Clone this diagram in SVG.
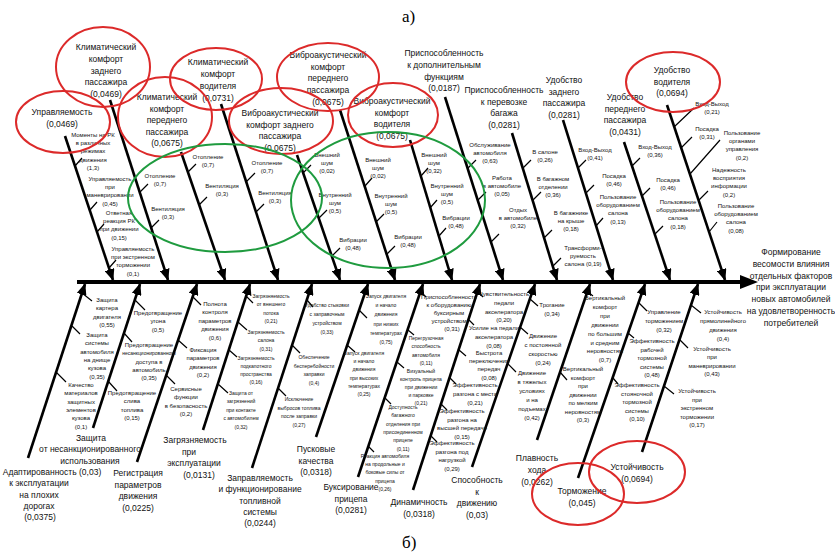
<svg xmlns="http://www.w3.org/2000/svg" width="835" height="552" viewBox="0 0 835 552">
<style>
.m{font-family:"Liberation Sans",Arial,sans-serif;font-size:8.5px;text-anchor:middle;fill:#111}
.s{font-family:"Liberation Sans",Arial,sans-serif;font-size:6px;text-anchor:middle;fill:#111}
.x{font-size:5px}
.lab{font-family:"Liberation Serif","Times New Roman",serif;font-size:17px;fill:#000}
.b{stroke:#000;stroke-width:2.6;fill:none;marker-end:url(#a)}
.t{stroke:#000;stroke-width:1.2;fill:none}
.r{fill:none;stroke:#dc2a2a;stroke-width:2}
.g{fill:none;stroke:#1f9b3f;stroke-width:2}
</style>
<defs>
<marker id="a" viewBox="0 0 12 10" refX="11" refY="5" markerWidth="12" markerHeight="10" markerUnits="userSpaceOnUse" orient="auto"><path d="M0,0L12,5L0,10z" fill="#000"/></marker>
</defs>
<rect width="835" height="552" fill="#fff"/>
<text class="lab" x="402" y="22">а)</text>
<text class="lab" x="402" y="548">б)</text>

<g id="connectors">
<line x1="77" y1="282" x2="744" y2="282" stroke="#000" stroke-width="4"/>
<polygon points="740,275 758,282 740,289" fill="#000"/>
<line class="b" x1="65" y1="136" x2="113" y2="280"/>
<line class="b" x1="110" y1="100" x2="168" y2="280"/>
<line class="b" x1="181" y1="152" x2="225" y2="280"/>
<line class="b" x1="221" y1="104" x2="278" y2="280"/>
<line class="b" x1="297" y1="155" x2="340" y2="280"/>
<line class="b" x1="340" y1="110" x2="395" y2="280"/>
<line class="b" x1="410" y1="140" x2="452" y2="280"/>
<line class="b" x1="445" y1="97" x2="503" y2="280"/>
<line class="b" x1="512" y1="133" x2="557" y2="280"/>
<line class="b" x1="563" y1="120" x2="613" y2="280"/>
<line class="b" x1="624" y1="142" x2="670" y2="280"/>
<line class="b" x1="667" y1="105" x2="725" y2="280"/>
<line class="b" x1="28" y1="458" x2="85" y2="284"/>
<line class="b" x1="93" y1="428" x2="140" y2="284"/>
<line class="b" x1="137" y1="462" x2="197" y2="284"/>
<line class="b" x1="203" y1="430" x2="250" y2="284"/>
<line class="b" x1="252" y1="468" x2="312" y2="284"/>
<line class="b" x1="316" y1="437" x2="368" y2="284"/>
<line class="b" x1="358" y1="477" x2="423" y2="284"/>
<line class="b" x1="413" y1="490" x2="480" y2="284"/>
<line class="b" x1="472" y1="467" x2="535" y2="284"/>
<line class="b" x1="537" y1="440" x2="590" y2="284"/>
<line class="b" x1="578" y1="478" x2="645" y2="284"/>
<line class="b" x1="642" y1="452" x2="698" y2="284"/>
<g class="t">
<path d="M75,166l7,-8M90,210l7,-8M97,232l7,-8M109,268l7,-8"/>
<path d="M140,192l8,-8M151,228l8,-8"/>
<path d="M188,172l8,-8M199,205l8,-8"/>
<path d="M246,182l9,-9M256,212l8,-8"/>
<path d="M303,173l8,-8M319,218l8,-8M332,256l8,-8"/>
<path d="M365,186l7,-8M376,222l8,-8M387,254l8,-8"/>
<path d="M421,176l7,-8M430,208l7,-8M439,236l7,-8"/>
<path d="M468,168l8,-8M478,200l8,-8M491,242l8,-8"/>
<path d="M523,168l8,-8M533,200l8,-8M544,238l8,-8M553,266l8,-8"/>
<path d="M578,168l8,-8M586,193l8,-8M596,226l7,-8"/>
<path d="M632,166l8,-8M642,196l8,-8M655,234l8,-8"/>
<path d="M674,127l20,-19M681,148l11,-11M690,174l30,-34M699,200l9,-9M709,232l8,-10"/>
<path d="M82,293l10,8M72,326l8,8M56,372l10,10"/>
<path d="M135,300l10,10M124,333l8,9M108,381l9,10"/>
<path d="M193,297l8,8M178,340l9,8M166,375l9,9"/>
<path d="M246,296l7,7M238,322l9,8M229,350l8,7M218,384l10,9"/>
<path d="M307,300l6,7M292,345l8,8M278,388l8,8"/>
<path d="M359,310l8,8M347,345l8,7"/>
<path d="M421,292l5,5M408,330l6,5M397,362l7,6M385,398l6,6M368,446l6,6"/>
<path d="M478,292l5,5M469,320l5,5M459,350l7,6M450,378l6,6M441,404l6,6M431,436l6,6"/>
<path d="M530,299l8,7M520,327l8,7M508,364l8,8"/>
<path d="M588,292l5,4M560,372l7,8"/>
<path d="M639,303l8,8M628,333l6,5M613,378l5,6"/>
<path d="M691,305l10,8M680,340l8,8M664,386l10,8"/>
</g>
</g>

<g id="upravlyaemost">
<text class="m" x="62" y="115">Управляемость<tspan x="62" dy="11.7">(0,0469)</tspan></text>
<text class="s" x="93" y="137">Моменты на РК<tspan x="93" dy="8.2">в различных</tspan><tspan x="93" dy="8.2">режимах</tspan><tspan x="93" dy="8.2">движения</tspan><tspan x="93" dy="8.2">(1,3)</tspan></text>
<text class="s" x="110" y="181">Управляемость<tspan x="110" dy="8.2">при</tspan><tspan x="110" dy="8.2">маневрировании</tspan><tspan x="110" dy="8.2">(0,45)</tspan></text>
<text class="s" x="119" y="215">Ответная<tspan x="119" dy="8.2">реакция РК</tspan><tspan x="119" dy="8.2">при движении</tspan><tspan x="119" dy="8.2">(0,15)</tspan></text>
<text class="s" x="133" y="251">Управляемость<tspan x="133" dy="8.2">при экстренном</tspan><tspan x="133" dy="8.2">торможении</tspan><tspan x="133" dy="8.2">(0,1)</tspan></text>
</g>
<g id="klimat-zadn">
<text class="m" x="106" y="50">Климатический<tspan x="106" dy="11.8">комфорт</tspan><tspan x="106" dy="11.8">заднего</tspan><tspan x="106" dy="11.8">пассажира</tspan><tspan x="106" dy="11.8">(0,0469)</tspan></text>
<text class="s" x="160" y="178">Отопление<tspan x="160" dy="8.2">(0,7)</tspan></text>
<text class="s" x="168" y="211">Вентиляция<tspan x="168" dy="8.2">(0,3)</tspan></text>
</g>
<g id="klimat-pered">
<text class="m" x="167" y="100">Климатический<tspan x="167" dy="11.6">комфорт</tspan><tspan x="167" dy="11.6">переднего</tspan><tspan x="167" dy="11.6">пассажира</tspan><tspan x="167" dy="11.6">(0,0675)</tspan></text>
<text class="s" x="208" y="159">Отопление<tspan x="208" dy="8.2">(0,7)</tspan></text>
<text class="s" x="222" y="188">Вентиляция<tspan x="222" dy="8.2">(0,3)</tspan></text>
</g>
<g id="klimat-vod">
<text class="m" x="218" y="65">Климатический<tspan x="218" dy="12">комфорт</tspan><tspan x="218" dy="12">водителя</tspan><tspan x="218" dy="12">(0,0731)</tspan></text>
<text class="s" x="267" y="165">Отопление<tspan x="267" dy="8.2">(0,7)</tspan></text>
<text class="s" x="275" y="195">Вентиляция<tspan x="275" dy="8.2">(0,3)</tspan></text>
</g>
<g id="vibro-zadn">
<text class="m" x="280" y="116">Виброакустический<tspan x="280" dy="11.7">комфорт заднего</tspan><tspan x="280" dy="11.7">пассажира</tspan><tspan x="280" dy="11.7">(0,0675)</tspan></text>
<text class="s" x="327" y="157">Внешний<tspan x="327" dy="8.2">шум</tspan><tspan x="327" dy="8.2">(0,02)</tspan></text>
<text class="s" x="335" y="197">Внутренний<tspan x="335" dy="8.2">шум</tspan><tspan x="335" dy="8.2">(0,5)</tspan></text>
<text class="s" x="353" y="242">Вибрации<tspan x="353" dy="8.2">(0,48)</tspan></text>
</g>
<g id="vibro-pered">
<text class="m" x="328" y="58">Виброакустический<tspan x="328" dy="11.7">комфорт</tspan><tspan x="328" dy="11.7">переднего</tspan><tspan x="328" dy="11.7">пассажира</tspan><tspan x="328" dy="11.7">(0,0675)</tspan></text>
<text class="s" x="378" y="162">Внешний<tspan x="378" dy="8.2">шум</tspan><tspan x="378" dy="8.2">(0,02)</tspan></text>
<text class="s" x="391" y="198">Внутренний<tspan x="391" dy="8.2">шум</tspan><tspan x="391" dy="8.2">(0,5)</tspan></text>
<text class="s" x="408" y="239">Вибрации<tspan x="408" dy="8.2">(0,48)</tspan></text>
</g>
<g id="vibro-vod">
<text class="m" x="392" y="104">Виброакустический<tspan x="392" dy="11.7">комфорт</tspan><tspan x="392" dy="11.7">водителя</tspan><tspan x="392" dy="11.7">(0,0675)</tspan></text>
<text class="s" x="434" y="157">Внешний<tspan x="434" dy="8.2">шум</tspan><tspan x="434" dy="8.2">(0,32)</tspan></text>
<text class="s" x="447" y="188">Внутренний<tspan x="447" dy="8.2">шум</tspan><tspan x="447" dy="8.2">(0,5)</tspan></text>
<text class="s" x="456" y="220">Вибрации<tspan x="456" dy="8.2">(0,48)</tspan></text>
</g>
<g id="dop-funkcii">
<text class="m" x="444" y="56">Приспособленность<tspan x="444" dy="11.8">к дополнительным</tspan><tspan x="444" dy="11.8">функциям</tspan><tspan x="444" dy="11.8">(0,0187)</tspan></text>
<text class="s" x="490" y="147">Обслуживание<tspan x="490" dy="8.2">автомобиля</tspan><tspan x="490" dy="8.2">(0,63)</tspan></text>
<text class="s" x="502" y="180">Работа<tspan x="502" dy="8.2">в автомобиле</tspan><tspan x="502" dy="8.2">(0,05)</tspan></text>
<text class="s" x="518" y="212">Отдых<tspan x="518" dy="8.2">в автомобиле</tspan><tspan x="518" dy="8.2">(0,32)</tspan></text>
</g>
<g id="bagazh">
<text class="m" x="504" y="93">Приспособленность<tspan x="504" dy="11.6">к перевозке</tspan><tspan x="504" dy="11.6">багажа</tspan><tspan x="504" dy="11.6">(0,0281)</tspan></text>
<text class="s" x="545" y="154">В салоне<tspan x="545" dy="8.2">(0,26)</tspan></text>
<text class="s" x="553" y="181">В багажном<tspan x="553" dy="8.2">отделении</tspan><tspan x="553" dy="8.2">(0,36)</tspan></text>
<text class="s" x="571" y="215">В багажнике<tspan x="571" dy="8.2">на крыше</tspan><tspan x="571" dy="8.2">(0,18)</tspan></text>
<text class="s" x="583" y="250">Трансформи-<tspan x="583" dy="8.2">руемость</tspan><tspan x="583" dy="8.2">салона (0,19)</tspan></text>
</g>
<g id="udobstvo-zadn">
<text class="m" x="564" y="83">Удобство<tspan x="564" dy="11.5">заднего</tspan><tspan x="564" dy="11.5">пассажира</tspan><tspan x="564" dy="11.5">(0,0281)</tspan></text>
<text class="s" x="595" y="152">Вход-Выход<tspan x="595" dy="8.2">(0,41)</tspan></text>
<text class="s" x="614" y="178">Посадка<tspan x="614" dy="8.2">(0,46)</tspan></text>
<text class="s" x="618" y="199">Пользование<tspan x="618" dy="8.2">оборудованием</tspan><tspan x="618" dy="8.2">салона</tspan><tspan x="618" dy="8.2">(0,13)</tspan></text>
</g>
<g id="udobstvo-pered">
<text class="m" x="625" y="100">Удобство<tspan x="625" dy="11.5">переднего</tspan><tspan x="625" dy="11.5">пассажира</tspan><tspan x="625" dy="11.5">(0,0431)</tspan></text>
<text class="s" x="655" y="149">Вход-Выход<tspan x="655" dy="8.2">(0,36)</tspan></text>
<text class="s" x="668" y="182">Посадка<tspan x="668" dy="8.2">(0,46)</tspan></text>
<text class="s" x="678" y="204">Пользование<tspan x="678" dy="8.2">оборудованием</tspan><tspan x="678" dy="8.2">салона</tspan><tspan x="678" dy="8.2">(0,18)</tspan></text>
</g>
<g id="udobstvo-vod">
<text class="m" x="672" y="73">Удобство<tspan x="672" dy="11.6">водителя</tspan><tspan x="672" dy="11.6">(0,0694)</tspan></text>
<text class="s" x="712" y="106">Вход-Выход<tspan x="712" dy="8.2">(0,21)</tspan></text>
<text class="s" x="707" y="131">Посадка<tspan x="707" dy="8.2">(0,31)</tspan></text>
<text class="s" x="742" y="135">Пользование<tspan x="742" dy="8.2">органами</tspan><tspan x="742" dy="8.2">управления</tspan><tspan x="742" dy="8.2">(0,2)</tspan></text>
<text class="s" x="729" y="172">Надежность<tspan x="729" dy="8.2">восприятия</tspan><tspan x="729" dy="8.2">информации</tspan><tspan x="729" dy="8.2">(0,2)</tspan></text>
<text class="s" x="736" y="208">Пользование<tspan x="736" dy="8.2">оборудованием</tspan><tspan x="736" dy="8.2">салона</tspan><tspan x="736" dy="8.2">(0,08)</tspan></text>
</g>

<g id="result">
<text class="m" x="791" y="255">Формирование<tspan x="791" dy="11.8">весомости влияния</tspan><tspan x="791" dy="11.8">отдельных факторов</tspan><tspan x="791" dy="11.8">при эксплуатации</tspan><tspan x="791" dy="11.8">новых автомобилей</tspan><tspan x="791" dy="11.8">на удовлетворенность</tspan><tspan x="791" dy="11.8">потребителей</tspan></text>
</g>

<g id="adaptirovannost">
<text class="m" x="52" y="475">Адаптированность (0,03)<tspan x="39" dy="11.3">к эксплуатации</tspan><tspan x="39" dy="11.3">на плохих</tspan><tspan x="39" dy="11.3">дорогах</tspan><tspan x="40" dy="11.3">(0,0375)</tspan></text>
<text class="s" x="107" y="302">Защита<tspan x="107" dy="8.3">картера</tspan><tspan x="107" dy="8.3">двигателя</tspan><tspan x="107" dy="8.3">(0,55)</tspan></text>
<text class="s" x="97" y="337">Защита<tspan x="97" dy="8.3">системы</tspan><tspan x="97" dy="8.3">автомобиля</tspan><tspan x="97" dy="8.3">на днище</tspan><tspan x="97" dy="8.3">кузова</tspan><tspan x="97" dy="8.3">(0,35)</tspan></text>
<text class="s" x="81" y="387">Качество<tspan x="81" dy="8.3">материалов</tspan><tspan x="81" dy="8.3">защитных</tspan><tspan x="81" dy="8.3">элементов</tspan><tspan x="81" dy="8.3">кузова</tspan><tspan x="81" dy="8.3">(0,1)</tspan></text>
</g>
<g id="zashchita">
<text class="m" x="91" y="441">Защита<tspan x="90" dy="11.3">от несанкционированного</tspan><tspan x="90" dy="11.3">использования</tspan></text>
<text class="s" x="158" y="315">Предотвращение<tspan x="158" dy="8.3">угона</tspan><tspan x="158" dy="8.3">(0,5)</tspan></text>
<text class="s" x="149" y="347">Предотвращение<tspan x="149" dy="8.3" class="x">несанкционированного</tspan><tspan x="149" dy="8.3">доступа в</tspan><tspan x="149" dy="8.3">автомобиль</tspan><tspan x="149" dy="8.3">(0,35)</tspan></text>
<text class="s" x="132" y="395">Предотвращение<tspan x="132" dy="8.3">слива</tspan><tspan x="132" dy="8.3">топлива</tspan><tspan x="132" dy="8.3">(0,15)</tspan></text>
</g>
<g id="registraciya">
<text class="m" x="138" y="476">Регистрация<tspan x="138" dy="11.7">параметров</tspan><tspan x="138" dy="11.7">движения</tspan><tspan x="138" dy="11.7">(0,0225)</tspan></text>
<text class="s" x="215" y="306">Полнота<tspan x="215" dy="8.4">контроля</tspan><tspan x="215" dy="8.4">параметров</tspan><tspan x="215" dy="8.4">движения</tspan><tspan x="215" dy="8.4">(0,6)</tspan></text>
<text class="s" x="203" y="352">Фиксация<tspan x="203" dy="8.4">параметров</tspan><tspan x="203" dy="8.4">движения</tspan><tspan x="203" dy="8.4">(0,2)</tspan></text>
<text class="s" x="186" y="391">Сервисные<tspan x="186" dy="8.4">функции</tspan><tspan x="186" dy="8.4">в безопасность</tspan><tspan x="186" dy="8.4">(0,2)</tspan></text>
</g>
<g id="zagryaznyaemost">
<text class="m" x="195" y="443">Загрязняемость<tspan x="189" dy="11.7">при</tspan><tspan x="194" dy="11.7">эксплуатации</tspan><tspan x="199" dy="11.7">(0,0131)</tspan></text>
<text class="s x" x="271" y="298">Загрязняемость<tspan x="271" dy="8.4">от внешнего</tspan><tspan x="271" dy="8.4">потока</tspan><tspan x="271" dy="8.4">(0,21)</tspan></text>
<text class="s x" x="266" y="334">Загрязняемость<tspan x="266" dy="8.4">салона</tspan><tspan x="266" dy="8.4">(0,31)</tspan></text>
<text class="s x" x="256" y="360">Загрязняемость<tspan x="256" dy="8">подкапотного</tspan><tspan x="256" dy="8">пространства</tspan><tspan x="256" dy="8">(0,16)</tspan></text>
<text class="s x" x="241" y="395">Защита от<tspan x="241" dy="8.4">загрязнений</tspan><tspan x="241" dy="8.4">при контакте</tspan><tspan x="241" dy="8.4">с автомобилем</tspan><tspan x="241" dy="8.4">(0,32)</tspan></text>
</g>
<g id="zapravlyaemost">
<text class="m" x="260" y="481">Заправляемость<tspan x="260" dy="11.3">и функционирование</tspan><tspan x="260" dy="11.3">топливной</tspan><tspan x="260" dy="11.3">системы</tspan><tspan x="260" dy="11.3">(0,0244)</tspan></text>
<text class="s x" x="327" y="307">Удобство стыковки<tspan x="327" dy="9">с заправочным</tspan><tspan x="327" dy="9">устройством</tspan><tspan x="327" dy="9">(0,33)</tspan></text>
<text class="s x" x="314" y="359">Обеспечение<tspan x="314" dy="8.7">бесперебойности</tspan><tspan x="314" dy="8.7">заправки</tspan><tspan x="314" dy="8.7">(0,4)</tspan></text>
<text class="s x" x="299" y="401">Исключение<tspan x="299" dy="8.7">выбросов топлива</tspan><tspan x="299" dy="8.7">после заправки</tspan><tspan x="299" dy="8.7">(0,27)</tspan></text>
</g>
<g id="puskovye">
<text class="m" x="316" y="452">Пусковые<tspan x="316" dy="11.5">качества</tspan><tspan x="316" dy="11.5">(0,0318)</tspan></text>
<text class="s x" x="386" y="298">Запуск двигателя<tspan x="386" dy="9.2">и начало</tspan><tspan x="386" dy="9.2">движения</tspan><tspan x="386" dy="9.2">при низких</tspan><tspan x="386" dy="9.2">температурах</tspan><tspan x="386" dy="9.2">(0,75)</tspan></text>
<text class="s x" x="364" y="355">Запуск двигателя<tspan x="364" dy="8.2">и начало</tspan><tspan x="364" dy="8.2">движения</tspan><tspan x="364" dy="8.2">при высоких</tspan><tspan x="364" dy="8.2">температурах</tspan><tspan x="364" dy="8.2">(0,25)</tspan></text>
</g>
<g id="buksirovanie">
<text class="m" x="351" y="490">Буксирование<tspan x="351" dy="11.5">прицепа</tspan><tspan x="351" dy="11.5">(0,0281)</tspan></text>
<text class="s" x="449" y="299">Приспособленность<tspan x="449" dy="8">к оборудованию</tspan><tspan x="449" dy="8">буксирным</tspan><tspan x="449" dy="8">устройством</tspan><tspan x="452" dy="8">(0,31)</tspan></text>
<text class="s x" x="426" y="340">Перегрузочная<tspan x="426" dy="8.4">способность</tspan><tspan x="426" dy="8.4">автомобиля</tspan><tspan x="426" dy="8.4">(0,11)</tspan></text>
<text class="s x" x="421" y="373">Визуальный<tspan x="421" dy="8.1">контроль прицепа</tspan><tspan x="421" dy="8.1">при движении</tspan><tspan x="421" dy="8.1">и парковке</tspan><tspan x="421" dy="8.1">(0,21)</tspan></text>
<text class="s x" x="403" y="409">Доступность<tspan x="403" dy="8.3">багажного</tspan><tspan x="403" dy="8.3">отделения при</tspan><tspan x="403" dy="8.3">присоединенном</tspan><tspan x="403" dy="8.3">прицепе</tspan><tspan x="403" dy="8.3">(0,11)</tspan></text>
<text class="s x" x="385" y="458">Реакция автомобиля<tspan x="385" dy="8.2">на продольные и</tspan><tspan x="385" dy="8.2">боковые силы от</tspan><tspan x="385" dy="8.2">прицепа</tspan><tspan x="385" dy="8.2">(0,26)</tspan></text>
</g>
<g id="dinamichnost">
<text class="m" x="419" y="505">Динамичность<tspan x="419" dy="11.7">(0,0318)</tspan></text>
<text class="s" x="504" y="296">Чувствительность<tspan x="504" dy="8.8">педали</tspan><tspan x="504" dy="8.8">акселератора</tspan><tspan x="504" dy="8.8">(0,20)</tspan></text>
<text class="s" x="494" y="330">Усилие на педали<tspan x="494" dy="9.2">акселератора</tspan><tspan x="494" dy="9.2">(0,08)</tspan></text>
<text class="s" x="489" y="355">Быстрота<tspan x="489" dy="8.2">переключения</tspan><tspan x="489" dy="8.2">передач</tspan><tspan x="489" dy="8.2">(0,08)</tspan></text>
<text class="s" x="475" y="387">Эффективность<tspan x="475" dy="9">разгона с места</tspan><tspan x="475" dy="9">(0,21)</tspan></text>
<text class="s" x="462" y="413">Эффективность<tspan x="462" dy="8.6">разгона на</tspan><tspan x="462" dy="8.6">высшей передаче</tspan><tspan x="462" dy="8.6">(0,15)</tspan></text>
<text class="s" x="452" y="445">Эффективность<tspan x="452" dy="8.6">разгона под</tspan><tspan x="452" dy="8.6">нагрузкой</tspan><tspan x="452" dy="8.6">(0,29)</tspan></text>
</g>
<g id="sposobnost">
<text class="m" x="477" y="483">Способность<tspan x="477" dy="11.7">к</tspan><tspan x="477" dy="11.7">движению</tspan><tspan x="477" dy="11.7">(0,03)</tspan></text>
<text class="s" x="552" y="307">Трогание<tspan x="552" dy="9">(0,34)</tspan></text>
<text class="s" x="543" y="338">Движение<tspan x="543" dy="9">с постоянной</tspan><tspan x="543" dy="9">скоростью</tspan><tspan x="543" dy="9">(0,24)</tspan></text>
<text class="s" x="532" y="375">Движение<tspan x="532" dy="9">в тяжелых</tspan><tspan x="532" dy="9">условиях</tspan><tspan x="532" dy="9">и на</tspan><tspan x="532" dy="9">подъемах</tspan><tspan x="532" dy="9">(0,42)</tspan></text>
</g>
<g id="plavnost">
<text class="m" x="537" y="461">Плавность<tspan x="537" dy="11.8">хода</tspan><tspan x="537" dy="11.8">(0,0262)</tspan></text>
<text class="s" x="605" y="300">Вертикальный<tspan x="605" dy="8.9">комфорт</tspan><tspan x="605" dy="8.9">при</tspan><tspan x="605" dy="8.9">движении</tspan><tspan x="605" dy="8.9">по большим</tspan><tspan x="605" dy="8.9">и средним</tspan><tspan x="605" dy="8.9">неровностям</tspan><tspan x="605" dy="8.9">(0,7)</tspan></text>
<text class="s" x="583" y="371">Вертикальный<tspan x="583" dy="8.5">комфорт</tspan><tspan x="583" dy="8.5">при</tspan><tspan x="583" dy="8.5">движении</tspan><tspan x="583" dy="8.5">по мелким</tspan><tspan x="583" dy="8.5">неровностям</tspan><tspan x="583" dy="8.5">(0,3)</tspan></text>
</g>
<g id="tormozhenie">
<text class="m" x="582" y="494">Торможение<tspan x="582" dy="11.8">(0,045)</tspan></text>
<text class="s" x="664" y="314">Управление<tspan x="664" dy="9.2">торможением</tspan><tspan x="664" dy="9.2">(0,32)</tspan></text>
<text class="s" x="652" y="343">Эффективность<tspan x="652" dy="8.5">рабочей</tspan><tspan x="652" dy="8.5">тормозной</tspan><tspan x="652" dy="8.5">системы</tspan><tspan x="652" dy="8.5">(0,48)</tspan></text>
<text class="s" x="637" y="387">Эффективность<tspan x="637" dy="8.5">стояночной</tspan><tspan x="637" dy="8.5">тормозной</tspan><tspan x="637" dy="8.5">системы</tspan><tspan x="637" dy="8.5">(0,10)</tspan></text>
</g>
<g id="ustoychivost">
<text class="m" x="637" y="470">Устойчивость<tspan x="637" dy="11.5">(0,0694)</tspan></text>
<text class="s" x="723" y="314">Устойчивость<tspan x="723" dy="9">прямолинейного</tspan><tspan x="723" dy="9">движения</tspan><tspan x="723" dy="9">(0,4)</tspan></text>
<text class="s" x="712" y="351">Устойчивость<tspan x="712" dy="8.3">при</tspan><tspan x="712" dy="8.3">маневрировании</tspan><tspan x="712" dy="8.3">(0,43)</tspan></text>
<text class="s" x="697" y="393">Устойчивость<tspan x="697" dy="8.5">при</tspan><tspan x="697" dy="8.5">экстренном</tspan><tspan x="697" dy="8.5">торможении</tspan><tspan x="697" dy="8.5">(0,17)</tspan></text>
</g>

<g id="highlights">
<ellipse class="r" cx="63" cy="122" rx="47" ry="31"/>
<ellipse class="r" cx="103" cy="67" rx="47" ry="40"/>
<ellipse class="r" cx="165" cy="117" rx="47" ry="40"/>
<ellipse class="r" cx="216" cy="79" rx="46" ry="31"/>
<ellipse class="r" cx="281" cy="121" rx="52" ry="33"/>
<ellipse class="r" cx="328" cy="77" rx="51" ry="34"/>
<ellipse class="r" cx="393" cy="115" rx="45" ry="32"/>
<ellipse class="r" cx="673" cy="82" rx="47" ry="30"/>
<ellipse class="r" cx="578" cy="494" rx="46" ry="31"/>
<ellipse class="r" cx="637" cy="472" rx="48" ry="31"/>
<ellipse class="g" cx="225" cy="198" rx="97" ry="54"/>
<ellipse class="g" cx="388" cy="200" rx="97" ry="68"/>
</g>
</svg>
